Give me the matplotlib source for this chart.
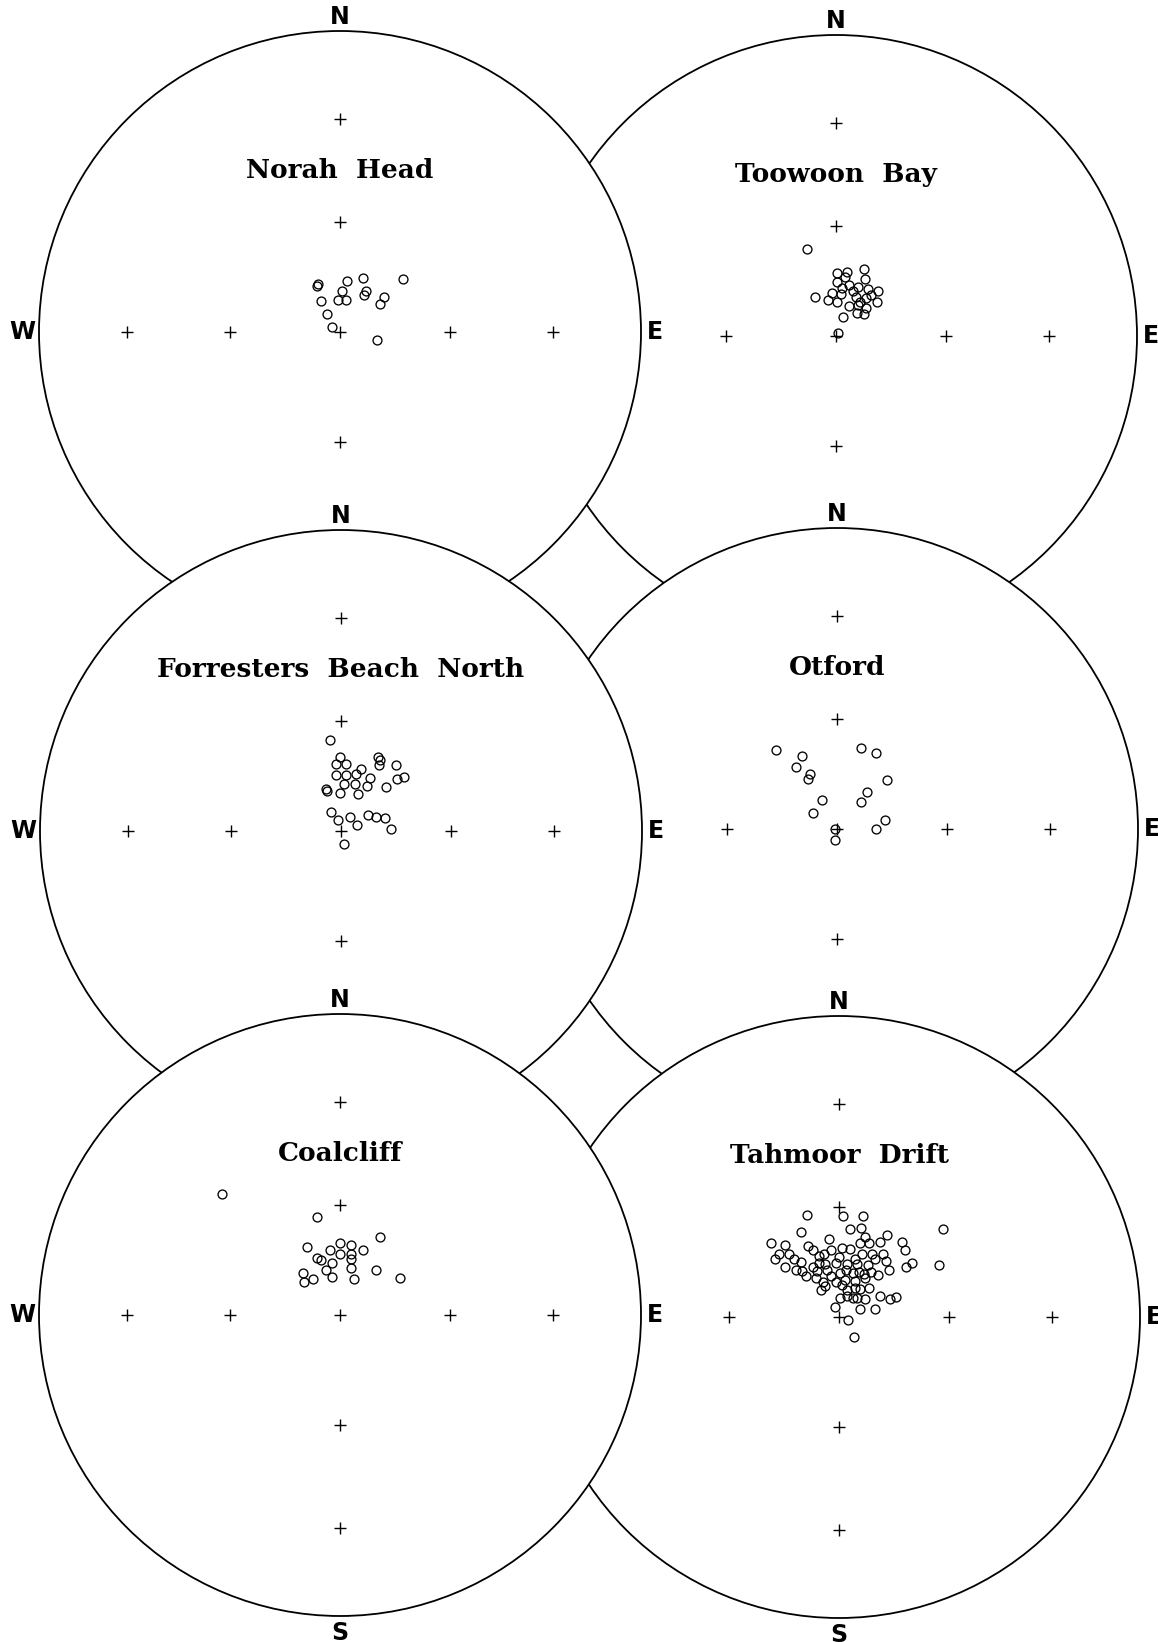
import matplotlib

matplotlib.use('Agg')
import matplotlib.pyplot as plt
from matplotlib.patches import Circle
import numpy as np

# pole positions, east / north in units of the net radius (lower hemisphere, equal area)
norah_e = [-0.077, -0.073, 0.024, 0.075, 0.210, 0.006, 0.086, 0.079, -0.006, 0.020,
           0.147, 0.132, -0.064, -0.044, -0.027, 0.122]
norah_n = [0.152, 0.159, 0.170, 0.181, 0.175, 0.136, 0.135, 0.123, 0.106, 0.106,
           0.115, 0.093, 0.103, 0.060, 0.018, -0.026]

toowoon_e = [-0.096, -0.070, 0.002, 0.037, 0.093, 0.002, 0.044, 0.097, 0.072, 0.107,
             0.139, -0.012, 0.016, 0.065, 0.100, -0.026, 0.135, 0.044, 0.072, 0.100,
             0.023, 0.070, 0.093, 0.079, 0.002, 0.007, 0.030, 0.115, 0.058, 0.020]
toowoon_n = [0.288, 0.128, 0.208, 0.212, 0.223, 0.179, 0.170, 0.189, 0.163, 0.157,
             0.148, 0.144, 0.138, 0.131, 0.125, 0.119, 0.112, 0.099, 0.102, 0.093,
             0.064, 0.077, 0.074, 0.112, 0.112, 0.010, 0.195, 0.135, 0.150, 0.160]

forresters_e = [-0.035, -0.003, -0.018, 0.017, 0.065, 0.124, 0.130, 0.127, 0.183, 0.209,
                0.186, -0.018, 0.017, 0.051, 0.098, -0.050, -0.046, 0.009, 0.046, 0.086,
                0.150, -0.003, 0.056, -0.032, -0.009, 0.031, 0.053, 0.090, 0.117, 0.147,
                0.166, 0.009]
forresters_n = [0.303, 0.247, 0.222, 0.222, 0.205, 0.247, 0.235, 0.218, 0.218, 0.180,
                0.174, 0.186, 0.186, 0.189, 0.176, 0.138, 0.133, 0.157, 0.155, 0.151,
                0.145, 0.126, 0.123, 0.062, 0.037, 0.045, 0.019, 0.053, 0.047, 0.043,
                0.005, -0.044]

otford_e = [-0.202, -0.116, -0.136, -0.090, -0.097, -0.049, -0.081, 0.079, 0.128, 0.165,
            0.100, 0.079, 0.160, 0.128, -0.008, -0.008]
otford_n = [0.261, 0.241, 0.205, 0.182, 0.165, 0.097, 0.053, 0.269, 0.252, 0.163,
            0.123, 0.089, 0.030, 0.000, 0.000, -0.035]

coalcliff_e = [-0.391, -0.076, 0.134, -0.109, -0.032, 0.001, 0.035, 0.075, -0.076, -0.062,
               -0.025, 0.001, 0.035, 0.035, -0.047, 0.035, 0.119, -0.124, -0.091, -0.121,
               -0.025, 0.045, 0.198]
coalcliff_n = [0.402, 0.324, 0.260, 0.227, 0.216, 0.239, 0.233, 0.216, 0.189, 0.182,
               0.172, 0.204, 0.204, 0.186, 0.150, 0.157, 0.148, 0.138, 0.120, 0.110,
               0.125, 0.120, 0.123]

tahmoor_e = [-0.105, 0.014, 0.079, -0.126, 0.038, 0.073, 0.159, 0.347, -0.227, -0.179,
             -0.102, -0.032, 0.010, 0.070, 0.100, 0.135, 0.209, -0.213, -0.165, -0.088,
             -0.050, 0.000, 0.038, 0.075, 0.110, 0.145, 0.219, -0.181, -0.126, -0.088,
             -0.046, -0.011, 0.028, 0.061, 0.098, 0.167, 0.223, 0.243, 0.331, -0.123,
             -0.074, -0.039, 0.003, 0.045, 0.084, 0.128, -0.078, -0.053, -0.011, 0.020,
             0.052, 0.086, -0.060, -0.046, 0.028, 0.070, 0.028, 0.059, 0.086, 0.135,
             0.170, 0.191, -0.014, 0.070, 0.121, 0.031, 0.049, -0.151, -0.067, -0.025,
             0.052, 0.024, 0.066, 0.107, -0.109, -0.025, 0.010, 0.052, 0.100, -0.199,
             -0.144, 0.121, 0.045, 0.003, -0.067, 0.156, 0.086]
tahmoor_n = [0.340, 0.336, 0.336, 0.284, 0.293, 0.296, 0.274, 0.292, 0.245, 0.238,
             0.235, 0.260, 0.230, 0.245, 0.245, 0.249, 0.249, 0.194, 0.208, 0.223,
             0.208, 0.198, 0.226, 0.208, 0.208, 0.208, 0.223, 0.167, 0.182, 0.167,
             0.176, 0.179, 0.176, 0.176, 0.172, 0.157, 0.167, 0.179, 0.172, 0.152,
             0.152, 0.157, 0.147, 0.147, 0.142, 0.138, 0.128, 0.117, 0.117, 0.123,
             0.120, 0.128, 0.091, 0.103, 0.091, 0.094, 0.069, 0.062, 0.059, 0.069,
             0.059, 0.065, 0.032, 0.025, 0.025, -0.009, -0.067, 0.194, 0.201, 0.223,
             0.194, 0.157, 0.150, 0.150, 0.135, 0.135, 0.106, 0.098, 0.098, 0.208,
             0.157, 0.194, 0.062, 0.062, 0.179, 0.186, 0.267]

ring_angles = [30, 60]  # reference crosses, degrees from the centre

W_PX, H_PX = 1158, 1642
R_PX = 301
LIM = 1.15


def draw_net(cx, cy, title, e, n, labels):
    w = 2 * LIM * R_PX
    ax = fig.add_axes([(cx - LIM * R_PX) / W_PX, 1 - (cy + LIM * R_PX) / H_PX, w / W_PX, w / H_PX])
    ax.set_xlim(-LIM, LIM)
    ax.set_ylim(-LIM, LIM)
    ax.axis('off')
    ax.add_patch(Circle((0, 0), 1, facecolor='white', edgecolor='black', lw=1.3, zorder=1))

    r = np.sqrt(2) * np.sin(np.radians(ring_angles) / 2)
    z = np.zeros_like(r)
    gx = np.concatenate([[0], r, -r, z, z])
    gy = np.concatenate([[0], z, z, r, -r])
    ax.plot(gx, gy, '+', color='black', ms=8, mew=1.0, zorder=2)

    ax.plot(e, n, 'o', mfc='none', mec='black', ms=6.4, mew=0.95, zorder=3)

    ax.text(0, 0.535, title, ha='center', va='center', fontsize=19,
            family='DejaVu Serif', fontweight='bold', zorder=4)

    pos = {'N': (0, 1.045), 'S': (0, -1.055), 'E': (1.045, 0), 'W': (-1.055, 0)}
    for lab in labels:
        x, y = pos[lab]
        ax.text(x, y, lab, ha='center', va='center', fontsize=17, family='DejaVu Sans',
                fontweight='bold', zorder=4, clip_on=False)


fig = plt.figure(figsize=(11.58, 16.42), dpi=100)
fig.patch.set_facecolor('white')

# right column first, so the left nets sit on top where they overlap;
# only the compass letters that are not covered by another net are written
draw_net(836, 336, 'Toowoon  Bay', toowoon_e, toowoon_n, 'NE')
draw_net(837, 829, 'Otford', otford_e, otford_n, 'NE')
draw_net(839, 1317, 'Tahmoor  Drift', tahmoor_e, tahmoor_n, 'NES')
draw_net(340, 332, 'Norah  Head', norah_e, norah_n, 'NEW')
draw_net(341, 831, 'Forresters  Beach  North', forresters_e, forresters_n, 'NEW')
draw_net(340, 1315, 'Coalcliff', coalcliff_e, coalcliff_n, 'NESW')

plt.savefig('out.png', dpi=100, facecolor='white')
